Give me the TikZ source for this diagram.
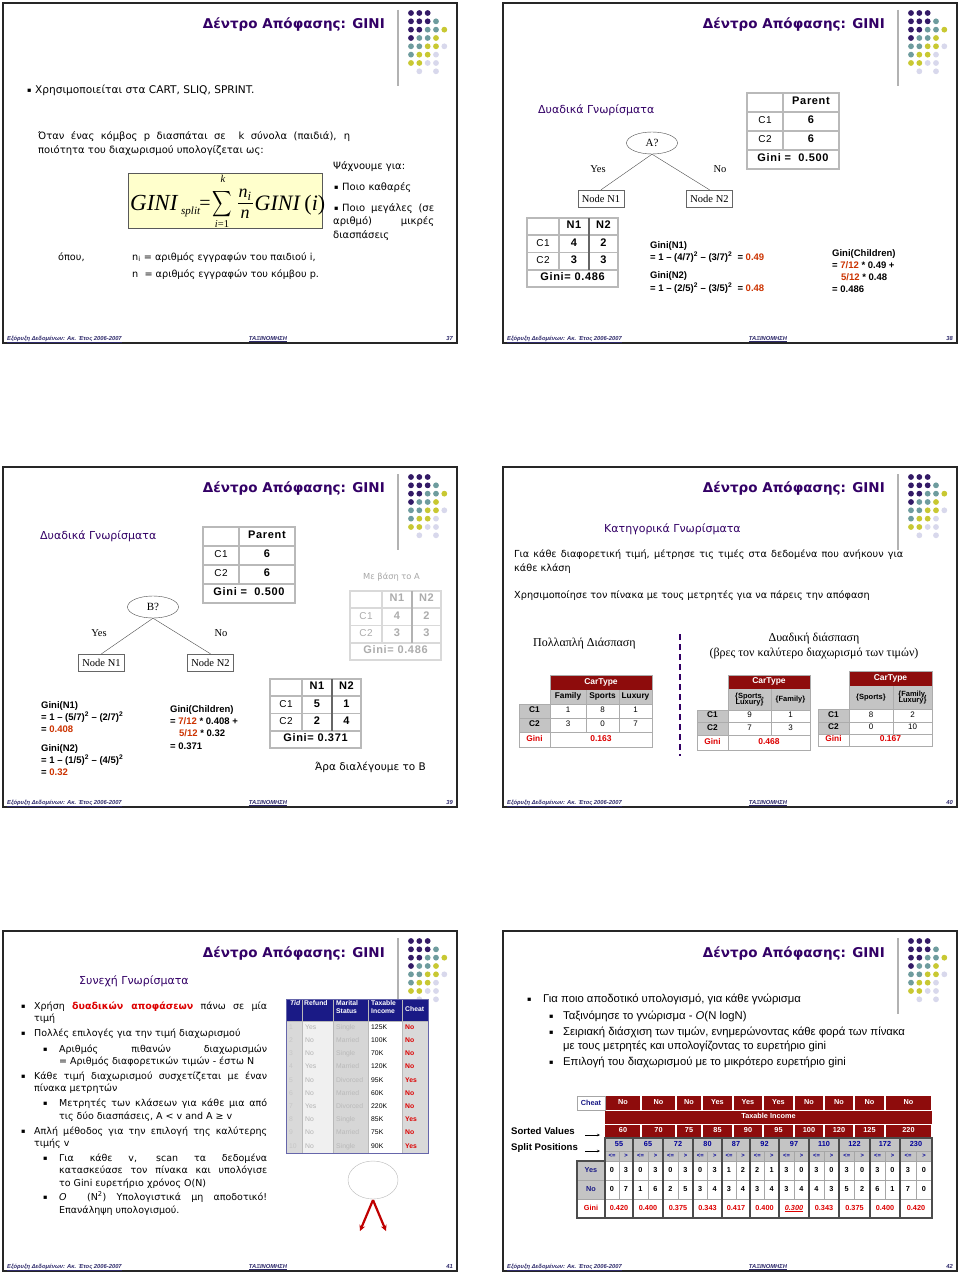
\documentclass[tikz,border=0pt]{standalone}
\usepackage{fontspec}
\usepackage{amsmath}
\setmainfont{Liberation Sans}
\newfontfamily\comicf{DejaVu Sans}
\newfontfamily\arialf{Liberation Sans}
\newfontfamily\arialsp[LetterSpace=6]{Liberation Sans}
\newfontfamily\timesf{Liberation Serif}
\usetikzlibrary{arrows.meta,shapes.geometric}
\newcommand\cf[1]{\comicf\fontsize{#1}{#1}\selectfont}
\newcommand\af[1]{\arialf\fontsize{#1}{#1}\selectfont}
\newcommand\abf[1]{\arialf\bfseries\fontsize{#1}{#1}\selectfont}
\newcommand\asf[1]{\arialsp\fontsize{#1}{#1}\selectfont}
\newcommand\asbf[1]{\arialsp\bfseries\fontsize{#1}{#1}\selectfont}
\newcommand\tf[1]{\timesf\fontsize{#1}{#1}\selectfont}
\newcommand\js[2]{\makebox[#1pt][s]{#2}}
\definecolor{titlepurple}{HTML}{330066}
\definecolor{dotD}{HTML}{331A66}
\definecolor{dotT}{HTML}{6E9C9E}
\definecolor{dotY}{HTML}{C8C832}
\definecolor{dotL}{HTML}{D8D8EC}
\definecolor{footblue}{HTML}{2E2A6B}
\definecolor{gred}{HTML}{CC3300}
\definecolor{tred}{HTML}{DD0000}
\definecolor{dred}{HTML}{8E0C0C}
\definecolor{tgray}{HTML}{C4C4C4}
\definecolor{navyh}{HTML}{1A1A86}
\definecolor{sblue}{HTML}{000099}
\definecolor{fyellow}{HTML}{FFFFCC}
\definecolor{arrowred}{HTML}{C00000}
\tikzset{
  tl/.style={inner sep=0pt, anchor=west, text height=6.5pt, text depth=2pt},
  tc/.style={inner sep=0pt, text height=6.5pt, text depth=2pt},
  tcs/.style={inner sep=0pt, text height=4.8pt, text depth=1.4pt},
  bul/.style={inner sep=0pt, anchor=west, font={\cf{6.5}}},
  tbl/.style={draw=gray!55, line width=1.2pt},
  gridl/.style={draw=gray!65, line width=0.8pt},
  treebox/.style={draw=black!60, minimum width=46pt, minimum height=17pt, inner sep=0pt, font={\tf{10.5}}},
  treeell/.style={ellipse, draw=black!70, minimum width=51pt, minimum height=22pt, inner sep=0pt, font={\tf{11}}},
  footst/.style={inner sep=0pt, text=footblue, font={\arialf\bfseries\itshape\fontsize{5.8}{6}\selectfont}},
  purplehead/.style={tl, text=titlepurple, font={\cf{11}}},
  gtxt/.style={tl, font={\abf{9.5}}},
  fx/.style={inner sep=0pt},
}
\newcommand\slideframe[1]{%
  \draw[line width=1.5pt, black!85] (3,3) rectangle (457,343);
  \node[inner sep=0pt, anchor=east, text=titlepurple, font={\comicf\bfseries\fontsize{13.5}{13.5}\selectfont}] (ttl#1) at (385,25) {Δέντρο Απόφασης: GINI};
  \coordinate (vla#1) at (398,10);
  \coordinate (vlb#1) at (398,86);
  \draw[gray!60, line width=1.2pt] (vla#1) -- (vlb#1);
  \foreach \i/\j/\c in {0/0/dotD,1/0/dotD,2/0/dotD,
      0/1/dotD,1/1/dotD,2/1/dotD,3/1/dotT,
      0/2/dotD,1/2/dotD,2/2/dotT,3/2/dotT,4/2/dotY,
      0/3/dotD,1/3/dotT,2/3/dotT,3/3/dotY,
      0/4/dotT,1/4/dotT,2/4/dotY,3/4/dotY,4/4/dotL,
      0/5/dotT,1/5/dotY,2/5/dotY,3/5/dotL,
      0/6/dotY,1/6/dotY,2/6/dotL,3/6/dotL,
      1/7/dotL,3/7/dotL}
    {\fill[\c] ({411+8.33*\i},{13+8.33*\j}) circle[radius=2.9pt];}
  \node[footst, anchor=base west] (ftl#1) at (7,340) {\underline{Εξόρυξη Δεδομένων: Ακ. Έτος 2006-2007}};
  \node[footst, anchor=base] (ftc#1) at (268,340) {\underline{ΤΑΞΙΝΟΜΗΣΗ}};
  \node[footst, anchor=base east] (ftr#1) at (453,340) {#1};
}
\newcommand\parenttbl[1]{%
  \draw[tbl] (0,0) rectangle (92,76);
  \draw[tbl] (36,0) -- (36,57) (0,19) -- (92,19) (0,38) -- (92,38) (0,57) -- (92,57);
  \node[tc,font={\asbf{11}}] (#1p) at (64,9.5) {Parent};
  \node[tc,font={\asf{10}}] (#1c1) at (18,28.5) {C1};
  \node[tc,font={\asbf{11}}] (#1v1) at (64,28.5) {6};
  \node[tc,font={\asf{10}}] (#1c2) at (18,47.5) {C2};
  \node[tc,font={\asbf{11}}] (#1v2) at (64,47.5) {6};
  \node[tc,font={\asbf{11}}] (#1g) at (46,66.5) {Gini =\ \ 0.500};
}
% prefix, a, b, c, d, gini, textcolor, linecolor, thickcolor
\newcommand\nntbl[9]{%
  \draw[draw=#8, line width=1.2pt] (0,0) rectangle (91,69);
  \draw[draw=#8, line width=1.2pt] (32,0) -- (32,52) (0,17) -- (91,17) (0,34.5) -- (91,34.5) (0,52) -- (91,52);
  \draw[draw=#9, line width=2pt] (62,0) -- (62,52);
  \node[tc,text=#7,font={\asbf{11}}] (#1h1) at (47,8.5) {N1};
  \node[tc,text=#7,font={\asbf{11}}] (#1h2) at (76.5,8.5) {N2};
  \node[tc,text=#7,font={\asf{10}}] (#1c1) at (16,26) {C1};
  \node[tc,text=#7,font={\asbf{11}}] (#1a) at (47,26) {#2};
  \node[tc,text=#7,font={\asbf{11}}] (#1b) at (76.5,26) {#3};
  \node[tc,text=#7,font={\asf{10}}] (#1c2) at (16,43) {C2};
  \node[tc,text=#7,font={\asbf{11}}] (#1c) at (47,43) {#4};
  \node[tc,text=#7,font={\asbf{11}}] (#1d) at (76.5,43) {#5};
  \node[tc,text=#7,font={\asbf{11}}] (#1g) at (45.5,60.5) {#6};
}
\begin{document}
\begin{tikzpicture}[x=1pt,y=-1pt]
\fill[white] (0,0) rectangle (960,1273);
\useasboundingbox (0,0) rectangle (960,1273);

%================ SLIDE 37
\begin{scope}
\slideframe{37}
\node[bul] (s1b1) at (27,91) {▪};
\node[tl,font={\cf{10.6}}] (s1l1) at (35,91) {Χρησιμοποιείται στα CART, SLIQ, SPRINT.};
\node[tl,font={\cf{10}}] (s1l2) at (38,137) {\js{312}{Όταν ένας κόμβος p διασπάται σε\ \ k σύνολα (παιδιά), η}};
\node[tl,font={\cf{10}}] (s1l3) at (38,151) {ποιότητα του διαχωρισμού υπολογίζεται ως:};
\node[draw=gray!70!black, fill=fyellow, line width=0.8pt, minimum width=194pt, minimum height=55pt, inner sep=0pt] (s1box) at (225,200.5) {};
\node[fx, anchor=base west, font={\tf{23}\itshape}] (s1fa) at (130,211) {GINI};
\node[fx, anchor=base west, font={\tf{11}\itshape}] (s1fb) at (181,215) {split};
\node[fx, anchor=base, font={\tf{20}}] (s1fc) at (205,210) {=};
\node[fx] (s1fd) at (222,204) {\scalebox{1.35}[1.8]{$\displaystyle\sum$}};
\node[fx, anchor=base, font={\tf{10.5}\itshape}] (s1fe) at (223,183) {k};
\node[fx, anchor=base, font={\tf{10.5}}] (s1ff) at (222,228) {\textit{i}=1};
\node[fx, anchor=base, font={\tf{18}\itshape}] (s1fg) at (245,197.5) {n\textsubscript{i}};
\node[fx, anchor=base, font={\tf{18}\itshape}] (s1fh) at (245,219) {n};
\coordinate (s1bara) at (238,203.5);
\coordinate (s1barb) at (253,203.5);
\draw[line width=0.8pt] (s1bara) -- (s1barb);
\node[fx, anchor=base west, font={\tf{22}}] (s1fi) at (254.5,211) {\textit{GINI}\,(\textit{i})};
\node[tl,font={\cf{10}}] (s1r1) at (333,167) {Ψάχνουμε για:};
\node[bul] (s1r2b) at (334,188) {▪};
\node[tl,font={\cf{10}}] (s1r2) at (342,188) {Ποιο καθαρές};
\node[bul] (s1r3b) at (334,209) {▪};
\node[tl,font={\cf{10}}] (s1r3) at (342,209) {\js{92}{Ποιο μεγάλες (σε}};
\node[tl,font={\cf{10}}] (s1r4) at (333,222) {\js{101}{αριθμό) μικρές}};
\node[tl,font={\cf{10}}] (s1r5) at (333,236) {διασπάσεις};
\node[tl,font={\cf{9.7}}] (s1o) at (58,258) {όπου,};
\node[tl,font={\cf{9.7}}] (s1n1) at (132,258) {n\textsubscript{i} = αριθμός εγγραφών του παιδιού i,};
\node[tl,font={\cf{9.7}}] (s1n2) at (132,275) {n\ \ = αριθμός εγγραφών του κόμβου p.};
\end{scope}

%================ SLIDE 38
\begin{scope}[shift={(500,0)}]
\slideframe{38}
\node[purplehead] (s2h) at (38,111) {Δυαδικά Γνωρίσματα};
\node[treeell] (s2a) at (152,143) {A?};
\node[treebox] (s2n1) at (101,198.5) {Node N1};
\node[treebox] (s2n2) at (209.5,198.5) {Node N2};
\draw[black!70] (s2a.south) -- (s2n1.north);
\draw[black!70] (s2a.south) -- (s2n2.north);
\node[tc,font={\tf{10.5}}] (s2y) at (98,170) {Yes};
\node[tc,font={\tf{10.5}}] (s2no) at (220,170) {No};
\begin{scope}[shift={(247,93)}]
\parenttbl{s2p}
\end{scope}
\begin{scope}[shift={(27,218)}]
\nntbl{s2t}{4}{2}{3}{3}{Gini= 0.486}{black}{gray!55}{gray!80!black}
\end{scope}
\node[gtxt] (s2g1) at (150,246) {Gini(N1)};
\node[gtxt] (s2g2) at (150,258) {= 1 – (4/7)\textsuperscript{2} – (3/7)\textsuperscript{2}\ \ = \textcolor{gred}{0.49}};
\node[gtxt] (s2g3) at (150,276) {Gini(N2)};
\node[gtxt] (s2g4) at (150,289) {= 1 – (2/5)\textsuperscript{2} – (3/5)\textsuperscript{2}\ \ = \textcolor{gred}{0.48}};
\node[gtxt] (s2c1) at (332,254) {Gini(Children)};
\node[gtxt] (s2c2) at (332,266) {= \textcolor{gred}{7/12} * 0.49 +};
\node[gtxt] (s2c3) at (341,278) {\textcolor{gred}{5/12} * 0.48};
\node[gtxt] (s2c4) at (332,290) {= 0.486};
\end{scope}

%================ SLIDE 39
\begin{scope}[shift={(0,464)}]
\slideframe{39}
\node[purplehead] (s3h) at (40,73) {Δυαδικά Γνωρίσματα};
\begin{scope}[shift={(203,63)}]
\parenttbl{s3p}
\end{scope}
\node[treeell] (s3a) at (153,143) {B?};
\node[treebox] (s3n1) at (101.5,198.5) {Node N1};
\node[treebox] (s3n2) at (210.5,198.5) {Node N2};
\draw[black!70] (s3a.south) -- (s3n1.north);
\draw[black!70] (s3a.south) -- (s3n2.north);
\node[tc,font={\tf{10.5}}] (s3y) at (99,170) {Yes};
\node[tc,font={\tf{10.5}}] (s3no) at (221,170) {No};
\node[tl,font={\cf{8.3}},text=gray!70] (s3m) at (363,113) {Με βάση το A};
\begin{scope}[shift={(350,127)}]
\nntbl{s3g}{4}{2}{3}{3}{Gini= 0.486}{gray!65}{gray!30}{gray!60}
\end{scope}
\begin{scope}[shift={(270,215)}]
\nntbl{s3t}{5}{1}{2}{4}{Gini= 0.371}{black}{gray!55}{gray!80!black}
\end{scope}
\node[gtxt] (s3g1) at (41,242) {Gini(N1)};
\node[gtxt] (s3g2) at (41,254) {= 1 – (5/7)\textsuperscript{2} – (2/7)\textsuperscript{2}};
\node[gtxt] (s3g3) at (41,266) {= \textcolor{gred}{0.408}};
\node[gtxt] (s3g4) at (41,285) {Gini(N2)};
\node[gtxt] (s3g5) at (41,297) {= 1 – (1/5)\textsuperscript{2} – (4/5)\textsuperscript{2}};
\node[gtxt] (s3g6) at (41,309) {= \textcolor{gred}{0.32}};
\node[gtxt] (s3c1) at (170,246) {Gini(Children)};
\node[gtxt] (s3c2) at (170,258) {= \textcolor{gred}{7/12} * 0.408 +};
\node[gtxt] (s3c3) at (179,270) {\textcolor{gred}{5/12} * 0.32};
\node[gtxt] (s3c4) at (170,283) {= 0.371};
\node[tl,font={\cf{10.5}}] (s3ara) at (315,304) {Άρα διαλέγουμε το B};
\end{scope}

%================ SLIDE 40
\begin{scope}[shift={(500,464)}]
\slideframe{40}
\node[purplehead] (s4h) at (104,66) {Κατηγορικά Γνωρίσματα};
\node[tl,font={\cf{9.7}}] (s4l1) at (14,91) {\js{389}{Για κάθε διαφορετική τιμή, μέτρησε τις τιμές στα δεδομένα που ανήκουν για}};
\node[tl,font={\cf{9.7}}] (s4l2) at (14,105) {κάθε κλάση};
\node[tl,font={\cf{9.7}}] (s4l3) at (14,132) {Χρησιμοποίησε τον πίνακα με τους μετρητές για να πάρεις την απόφαση};
\node[tl,font={\tf{12}}] (s4m) at (33,180) {Πολλαπλή Διάσπαση};
\node[tc,font={\tf{12}}] (s4d1) at (314,175) {Δυαδική διάσπαση};
\node[tc,font={\tf{12}}] (s4d2) at (314,190) {(βρες τον καλύτερο διαχωρισμό των τιμών)};
\coordinate (s4da) at (180,170);
\coordinate (s4db) at (180,292);
\draw[titlepurple, line width=2pt, dash pattern=on 6pt off 4pt] (s4da) -- (s4db);
% table 1
\fill[dred] (50,211) rectangle (152,226);
\fill[tgray] (50,226) rectangle (152,240);
\fill[tgray] (19,240) rectangle (50,268);
\draw[gridl] (50,211) rectangle (152,240) (19,240) rectangle (152,283)
  (50,240) -- (50,283) (86,226) -- (86,268) (119,226) -- (119,268)
  (19,254) -- (152,254) (19,268) -- (152,268);
\node[tcs,font={\abf{8.5}},text=white] (t1h) at (101,218.5) {CarType};
\node[tcs,font={\abf{8.3}}] (t1f) at (68,233) {Family};
\node[tcs,font={\abf{8.3}}] (t1s) at (102.5,233) {Sports};
\node[tcs,font={\abf{8.3}}] (t1l) at (135.5,233) {Luxury};
\node[tcs,font={\abf{8.3}}] (t1c1) at (34.5,247) {C1};
\node[tcs,font={\abf{8.3}}] (t1c2) at (34.5,261) {C2};
\node[tcs,font={\abf{8.3}},text=tred] (t1g) at (34.5,275.5) {Gini};
\node[tcs,font={\af{8}}] (t1a) at (68,247) {1};
\node[tcs,font={\af{8}}] (t1b) at (102.5,247) {8};
\node[tcs,font={\af{8}}] (t1c) at (135.5,247) {1};
\node[tcs,font={\af{8}}] (t1d) at (68,261) {3};
\node[tcs,font={\af{8}}] (t1e) at (102.5,261) {0};
\node[tcs,font={\af{8}}] (t1ff) at (135.5,261) {7};
\node[tcs,font={\abf{8.5}},text=tred] (t1gv) at (101,275.5) {0.163};
% table 2
\fill[dred] (228,211) rectangle (310,225);
\fill[tgray] (228,225) rectangle (310,246);
\fill[tgray] (197,246) rectangle (228,271);
\draw[gridl] (228,211) rectangle (310,246) (197,246) rectangle (310,286)
  (228,246) -- (228,286) (271,225) -- (271,271)
  (197,258) -- (310,258) (197,271) -- (310,271);
\node[tcs,font={\abf{8.5}},text=white] (t2h) at (269,218) {CarType};
\node[inner sep=0pt,align=center,font={\abf{7.5}}] (t2s) at (249.5,235.5) {\{Sports,\\[-1.5pt]Luxury\}};
\node[tcs,font={\abf{7.5}}] (t2f) at (290.5,235.5) {\{Family\}};
\node[tcs,font={\abf{8.3}}] (t2c1) at (212.5,252) {C1};
\node[tcs,font={\abf{8.3}}] (t2c2) at (212.5,264.5) {C2};
\node[tcs,font={\abf{8.3}},text=tred] (t2g) at (212.5,278.5) {Gini};
\node[tcs,font={\af{8}}] (t2a) at (249.5,252) {9};
\node[tcs,font={\af{8}}] (t2b) at (290.5,252) {1};
\node[tcs,font={\af{8}}] (t2c) at (249.5,264.5) {7};
\node[tcs,font={\af{8}}] (t2d) at (290.5,264.5) {3};
\node[tcs,font={\abf{8.5}},text=tred] (t2gv) at (269,278.5) {0.468};
% table 3
\fill[dred] (349,207) rectangle (432,222);
\fill[tgray] (349,222) rectangle (432,245);
\fill[tgray] (318,245) rectangle (349,270);
\draw[gridl] (349,207) rectangle (432,245) (318,245) rectangle (432,282)
  (349,245) -- (349,282) (393,222) -- (393,270)
  (318,258) -- (432,258) (318,270) -- (432,270);
\node[tcs,font={\abf{8.5}},text=white] (t3h) at (390.5,214.5) {CarType};
\node[tcs,font={\abf{7.5}}] (t3s) at (371,233.5) {\{Sports\}};
\node[inner sep=0pt,align=center,font={\abf{7.5}}] (t3f) at (412.5,233.5) {\{Family,\\[-1.5pt]Luxury\}};
\node[tcs,font={\abf{8.3}}] (t3c1) at (333.5,251.5) {C1};
\node[tcs,font={\abf{8.3}}] (t3c2) at (333.5,264) {C2};
\node[tcs,font={\abf{8.3}},text=tred] (t3g) at (333.5,276) {Gini};
\node[tcs,font={\af{8}}] (t3a) at (371,251.5) {8};
\node[tcs,font={\af{8}}] (t3b) at (412.5,251.5) {2};
\node[tcs,font={\af{8}}] (t3c) at (371,264) {0};
\node[tcs,font={\af{8}}] (t3d) at (412.5,264) {10};
\node[tcs,font={\abf{8.5}},text=tred] (t3gv) at (390.5,276) {0.167};
\end{scope}

%================ SLIDE 41
\begin{scope}[shift={(0,928)}]
\slideframe{41}
\node[purplehead] (s5h) at (79,54) {Συνεχή Γνωρίσματα};
\foreach \yy [count=\k] in {79,106,149,204}
  {\node[bul] (s5b\k) at (21,\yy) {▪};}
\foreach \yy [count=\k] in {122,176,231,270}
  {\node[bul] (s5sb\k) at (43,\yy) {▪};}
\node[tl,font={\cf{9.5}}] (s5l1) at (34,79) {\js{233}{Χρήση \textcolor{tred}{\bfseries δυαδικών αποφάσεων} πάνω σε μία}};
\node[tl,font={\cf{9.5}}] (s5l2) at (34,91) {τιμή};
\node[tl,font={\cf{9.5}}] (s5l3) at (34,106) {Πολλές επιλογές για την τιμή διαχωρισμού};
\node[tl,font={\cf{9.5}}] (s5l4) at (59,122) {\js{208}{Αριθμός πιθανών διαχωρισμών}};
\node[tl,font={\cf{9.5}}] (s5l5) at (59,134) {= Αριθμός διαφορετικών τιμών - έστω Ν};
\node[tl,font={\cf{9.5}}] (s5l6) at (34,149) {\js{233}{Κάθε τιμή διαχωρισμού συσχετίζεται με έναν}};
\node[tl,font={\cf{9.5}}] (s5l7) at (34,161) {πίνακα μετρητών};
\node[tl,font={\cf{9.5}}] (s5l8) at (59,176) {\js{208}{Μετρητές των κλάσεων για κάθε μια από}};
\node[tl,font={\cf{9.5}}] (s5l9) at (59,189) {τις δύο διασπάσεις, A < v and A ≥ v};
\node[tl,font={\cf{9.5}}] (s5l10) at (34,204) {\js{233}{Απλή μέθοδος για την επιλογή της καλύτερης}};
\node[tl,font={\cf{9.5}}] (s5l11) at (34,216) {τιμής v};
\node[tl,font={\cf{9.5}}] (s5l12) at (59,231) {\js{208}{Για κάθε v, scan τα δεδομένα}};
\node[tl,font={\cf{9.5}}] (s5l13) at (59,243) {\js{208}{κατασκεύασε τον πίνακα και υπολόγισε}};
\node[tl,font={\cf{9.5}}] (s5l14) at (59,256) {το Gini ευρετήριο χρόνος O(N)};
\node[tl,font={\cf{9.5}}] (s5l15) at (59,270) {\js{208}{\itshape O\upshape\ \ (N\textsuperscript{2}) Υπολογιστικά μη αποδοτικό!}};
\node[tl,font={\cf{9.5}}] (s5l16) at (59,283) {Επανάληψη υπολογισμού.};
% data table
\fill[navyh] (286,71) rectangle (428,93);
\fill[gray!30] (286,93) rectangle (302,225);
\fill[gray!12] (302,93) rectangle (333,225);
\fill[gray!32] (333,93) rectangle (368,225);
\fill[white] (368,93) rectangle (402,225);
\fill[gray!30] (402,93) rectangle (428,225);
\draw[gray!55, line width=0.6pt] (302,71) -- (302,225) (333,71) -- (333,225) (368,71) -- (368,225) (402,71) -- (402,225) (286,93) -- (428,93);
\draw[black!55!blue!60, line width=0.7pt] (286,71) rectangle (428,225);
\node[tl,font={\arialf\bfseries\itshape\fontsize{6.8}{7}\selectfont},text=white] (dh1) at (290,75) {Tid};
\node[tl,font={\abf{6.8}},text=white] (dh2) at (304,75) {Refund};
\node[tl,font={\abf{6.8}},text=white] (dh3) at (336,75) {Marital};
\node[tl,font={\abf{6.8}},text=white] (dh3b) at (336,83) {Status};
\node[tl,font={\abf{6.8}},text=white] (dh4) at (371,75) {Taxable};
\node[tl,font={\abf{6.8}},text=white] (dh4b) at (371,83) {Income};
\node[tl,font={\abf{6.8}},text=white] (dh5) at (405,81) {Cheat};
\foreach \t/\r/\m/\inc/\ch [count=\k from 0] in {1/Yes/Single/125K/No, 2/No/Married/100K/No,
   3/No/Single/70K/No, 4/Yes/Married/120K/No, 5/No/Divorced/95K/Yes, 6/No/Married/60K/No,
   7/Yes/Divorced/220K/No, 8/No/Single/85K/Yes, 9/No/Married/75K/No, 10/No/Single/90K/Yes}
{
  \node[tl,font={\af{6.8}},text=gray!45] (dt\k) at (289,{99+13.2*\k}) {\t};
  \node[tl,font={\af{6.8}},text=gray!60] (dr\k) at (305,{99+13.2*\k}) {\r};
  \node[tl,font={\af{6.8}},text=gray!55] (dm\k) at (336,{99+13.2*\k}) {\m};
  \node[tl,font={\af{6.8}}] (di\k) at (371,{99+13.2*\k}) {\inc};
  \node[tl,font={\abf{6.8}},text=tred] (dc\k) at (405,{99+13.2*\k}) {\ch};
}
\node[ellipse, draw=gray!55, minimum width=50pt, minimum height=38pt, inner sep=0pt] (s5e) at (373,252) {};
\coordinate (s5ap) at (373,272);
\coordinate (s5al) at (360,303);
\coordinate (s5ar) at (386,303);
\draw[arrowred, line width=2.2pt, -{Stealth[length=6pt,width=6pt]}] (s5ap) -- (s5al);
\draw[arrowred, line width=2.2pt, -{Stealth[length=6pt,width=6pt]}] (s5ap) -- (s5ar);
\end{scope}

%================ SLIDE 42
\begin{scope}[shift={(500,928)}]
\slideframe{42}
\node[bul] (s6b1) at (27,72) {▪};
\node[tl,font={\af{11.3}}] (s6l1) at (43,72) {Για ποιο αποδοτικό υπολογισμό, για κάθε γνώρισμα};
\foreach \yy [count=\k] in {89,105,135}
  {\node[bul] (s6sb\k) at (49,\yy) {▪};}
\node[tl,font={\af{11.3}}] (s6l2) at (63,89) {Ταξινόμησε το γνώρισμα - \textit{O}(N logN)};
\node[tl,font={\af{11.3}}] (s6l3) at (63,105) {Σειριακή διάσχιση των τιμών, ενημερώνοντας κάθε φορά των πίνακα};
\node[tl,font={\af{11.3}}] (s6l4) at (63,119) {με τους μετρητές και υπολογίζοντας το ευρετήριο gini};
\node[tl,font={\af{11.3}}] (s6l5) at (63,135) {Επιλογή του διαχωρισμού με το μικρότερο ευρετήριο gini};
% left labels
\node[tl,font={\abf{9.6}}] (s6sv) at (11,204) {Sorted Values};
\node[tl,font={\abf{9.6}}] (s6sp) at (11,220) {Split Positions};
\coordinate (s6a1) at (85,207);
\coordinate (s6a2) at (100,207);
\coordinate (s6a3) at (85,223);
\coordinate (s6a4) at (100,223);
\draw[-{Stealth[length=3pt,width=2.5pt]}, line width=0.5pt] (s6a1) -- (s6a2);
\draw[-{Stealth[length=3pt,width=2.5pt]}, line width=0.5pt] (s6a3) -- (s6a4);
% red header rows
\fill[dred] (105,168) rectangle (432,210);
\draw[white, line width=1pt] (105,182) -- (432,182) (105,196) -- (432,196);
\node[draw=gray!70, line width=0.8pt, fill=white, minimum width=28pt, minimum height=14pt, inner sep=0pt, font={\abf{7.3}}, text=navyh] (s6ch) at (91,175) {Cheat};
\node[tcs,font={\abf{7.3}},text=white] (s6ti) at (268.5,189) {Taxable Income};
\foreach \xa/\xb/\c/\v [count=\k] in {105/141/No/60, 141/176/No/70, 176/202/No/75, 202/233/Yes/85,
    233/263/Yes/90, 263/294/Yes/95, 294/324/No/100, 324/354/No/120, 354/385/No/125, 385/432/No/220}
{
  \draw[white, line width=1.2pt] (\xb,168) -- (\xb,182) (\xb,196) -- (\xb,210);
  \node[tcs,font={\abf{7.3}},text=white] (s6c\k) at ({(\xa+\xb)/2},175) {\c};
  \node[tcs,font={\abf{7.3}},text=white] (s6v\k) at ({(\xa+\xb)/2},203) {\v};
}
% gray rows
\fill[tgray] (105,210) rectangle (432,233);
\fill[tgray] (77,233) rectangle (105,271);
\draw[gray!70, line width=0.7pt] (105,223) -- (432,223) (77,233) -- (432,233) (77,252) -- (432,252) (77,271) -- (432,271);
\draw[gray!60!black, line width=1.3pt] (105,210) rectangle (432,290) (77,233) rectangle (105,290);
\node[tcs,font={\abf{7.3}},text=navyh] (s6yes) at (91,242.5) {Yes};
\node[tcs,font={\abf{7.3}},text=navyh] (s6no) at (91,261.5) {No};
\node[tcs,font={\abf{7.3}},text=tred] (s6gi) at (91,280.5) {Gini};
\foreach \xa/\xb/\sp/\ya/\yb/\na/\nb/\g [count=\k] in {105/133/55/0/3/0/7/0.420, 133/163/65/0/3/1/6/0.400,
    163/193/72/0/3/2/5/0.375, 193/222/80/0/3/3/4/0.343, 222/250/87/1/2/3/4/0.417, 250/279/92/2/1/3/4/0.400,
    279/309/97/3/0/3/4/{\underline{\itshape 0.300}}, 309/339/110/3/0/4/3/0.343, 339/370/122/3/0/5/2/0.375,
    370/400/172/3/0/6/1/0.400, 400/432/230/3/0/7/0/0.420}
{
  \draw[gray!60!black, line width=1.3pt] (\xb,210) -- (\xb,290);
  \draw[gray!70, line width=0.6pt] ({(\xa+\xb)/2},223) -- ({(\xa+\xb)/2},271);
  \node[tcs,font={\abf{7.3}},text=sblue] (s6s\k) at ({(\xa+\xb)/2},216.5) {\sp};
  \node[tcs,font={\abf{5.8}},text=sblue] (s6le\k) at ({\xa+(\xb-\xa)/4},228) {<=};
  \node[tcs,font={\abf{5.8}},text=sblue] (s6gt\k) at ({\xa+3*(\xb-\xa)/4},228) {>};
  \node[tcs,font={\abf{7.3}}] (s6ya\k) at ({\xa+(\xb-\xa)/4},242.5) {\ya};
  \node[tcs,font={\abf{7.3}}] (s6yb\k) at ({\xa+3*(\xb-\xa)/4},242.5) {\yb};
  \node[tcs,font={\abf{7.3}}] (s6na\k) at ({\xa+(\xb-\xa)/4},261.5) {\na};
  \node[tcs,font={\abf{7.3}}] (s6nb\k) at ({\xa+3*(\xb-\xa)/4},261.5) {\nb};
  \node[tcs,font={\abf{7.3}},text=tred] (s6g\k) at ({(\xa+\xb)/2},280.5) {\g};
}
\end{scope}
\end{tikzpicture}
\end{document}
